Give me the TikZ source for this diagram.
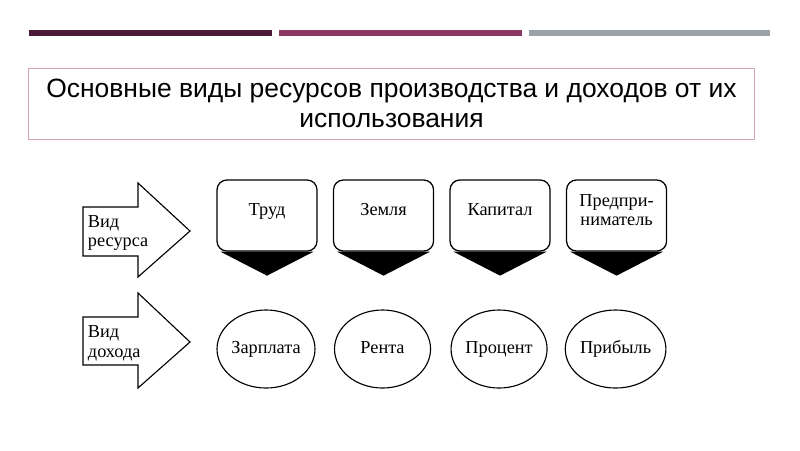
\documentclass[tikz,border=0pt]{standalone}
\usepackage{fontspec}
\setmainfont{Liberation Serif}
\newfontfamily\headfont{Liberation Sans}
\usetikzlibrary{positioning}
\usetikzlibrary{shapes.geometric}
\usetikzlibrary{calc}

\definecolor{barone}{HTML}{4B1A36}
\definecolor{bartwo}{HTML}{8B3A66}
\definecolor{barthree}{HTML}{9BA2AA}
\definecolor{headframe}{HTML}{D4A3B9}

\begin{document}
\begin{tikzpicture}[x=0.025cm,y=-0.025cm,every node/.style={font=\fontsize{13}{14}\selectfont},node distance=2.9125cm,on grid]
	
	\tikzstyle{resbox}=[rectangle,rounded corners=7pt,draw,line width=0.9pt,minimum width=2.5cm,minimum height=1.775cm,align=center,text depth=8pt]
	\tikzstyle{income}=[ellipse,draw,line width=0.8pt,inner sep=0pt,minimum width=2.4cm,minimum height=1.95cm,text height=9pt,text depth=3pt]
	\tikzstyle{sign}=[draw,line width=0.8pt,fill=white]
	
	\useasboundingbox (0,0) rectangle (800,450);
	
	% header bars:
	\fill[barone] (29,30) rectangle (272,36);
	\fill[bartwo] (279,30) rectangle (522,36);
	\fill[barthree] (529,30) rectangle (770,36);
	
	\node[draw=headframe,line width=0.6pt,minimum width=18.125cm,minimum height=1.775cm,align=center,
	font=\headfont\fontsize{18.8}{21.3}\selectfont] at (391.5,103.5) (head)
	{Основные виды ресурсов производства и доходов от их\\использования};
	
	% left arrows:
	\draw[sign] (83,207) -- (138,207) -- (138,183) -- (190,231) -- (138,277) -- (138,256) -- (83,256) -- cycle;
	\node[anchor=west,align=left] at (83,233) (restext) {Вид\\ресурса};
	\draw[sign] (83,317) -- (138,317) -- (138,293) -- (190,342) -- (138,388) -- (138,365) -- (83,365) -- cycle;
	\node[anchor=west,align=left] at (83,343) (inctext) {Вид\\дохода};
	
	% resources:
	\node [resbox] at (267,215.5) (trud) {Труд};
	\node [resbox] (zemlya) [right of=trud] {Земля};
	\node [resbox] (kapital) [right of=zemlya] {Капитал};
	\node [resbox] (predpr) [right of=kapital] {Предпри-\\ниматель};
	\foreach \b in {trud,zemlya,kapital,predpr}
		\fill ($(\b.south west)+(4,0)$) -- ($(\b.south east)+(-4,0)$) -- ($(\b.south)+(0,24)$) -- cycle;
	
	% incomes:
	\node [income] at (266,349) (zarplata) {Зарплата};
	\node [income] (renta) [right of=zarplata] {Рента};
	\node [income] (procent) [right of=renta] {Процент};
	\node [income] (pribyl) [right of=procent] {Прибыль};
	
\end{tikzpicture}
\end{document}
